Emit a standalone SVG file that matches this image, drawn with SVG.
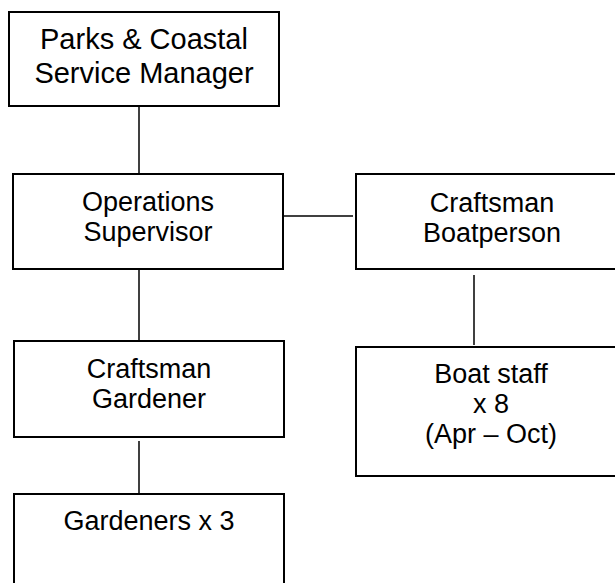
<svg xmlns="http://www.w3.org/2000/svg" width="615" height="583" viewBox="0 0 615 583">
<style>
.box{fill:#fff;stroke:#000;stroke-width:2}
.ln{stroke:#000;stroke-width:1.5;fill:none}
text{font-family:"Liberation Sans",Arial,sans-serif;font-size:27px;fill:#000;text-anchor:middle}
.big{font-size:29px}
</style>
<rect width="615" height="583" fill="#fff"/>
<g id="connectors">
<line class="ln" x1="139" y1="106" x2="139" y2="174"/>
<line class="ln" x1="283" y1="216" x2="353" y2="216"/>
<line class="ln" x1="139" y1="269" x2="139" y2="340"/>
<line class="ln" x1="139" y1="441" x2="139" y2="494"/>
<line class="ln" x1="474" y1="275" x2="474" y2="345"/>
</g>
<g id="manager">
<rect class="box" x="9" y="12" width="270" height="94"/>
<text class="big" x="144" y="49">Parks &amp; Coastal</text>
<text class="big" x="144" y="82.5">Service Manager</text>
</g>
<g id="ops">
<rect class="box" x="13" y="174" width="270" height="95"/>
<text x="148" y="210.5">Operations</text>
<text x="148" y="240.5">Supervisor</text>
</g>
<g id="boatperson">
<rect class="box" x="356" y="174" width="272" height="95"/>
<text x="492" y="211.5">Craftsman</text>
<text x="492" y="241.5">Boatperson</text>
</g>
<g id="boatstaff">
<rect class="box" x="356" y="347" width="272" height="129"/>
<text x="491" y="382.5">Boat staff</text>
<text x="491" y="412.5">x 8</text>
<text x="491" y="442.5">(Apr – Oct)</text>
</g>
<g id="cgardener">
<rect class="box" x="14" y="341" width="270" height="96"/>
<text x="149" y="377.5">Craftsman</text>
<text x="149" y="407.5">Gardener</text>
</g>
<g id="gardeners">
<rect class="box" x="14" y="494" width="270" height="110"/>
<text x="149" y="530">Gardeners x 3</text>
</g>
</svg>
